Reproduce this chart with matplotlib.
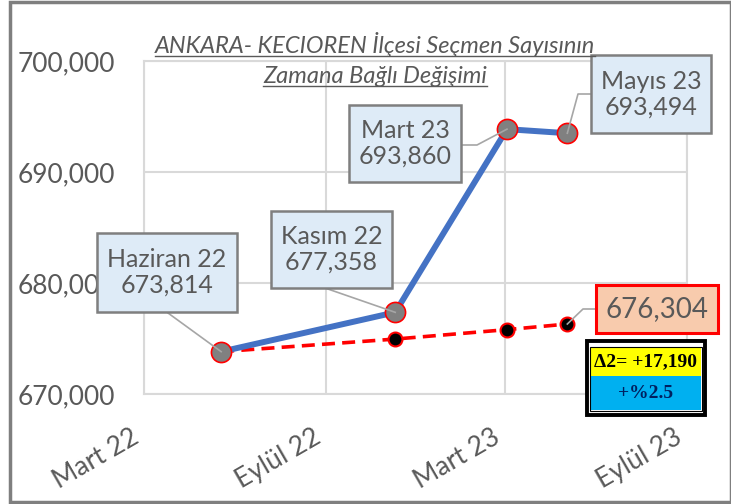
import datetime as dt
import matplotlib
matplotlib.use('Agg')
import matplotlib.pyplot as plt
import matplotlib.dates as mdates
from matplotlib.patches import Rectangle
from matplotlib.lines import Line2D
from matplotlib.transforms import Affine2D, IdentityTransform, ScaledTranslation

W, H = 731, 504

# Keçiören voter counts
point_names = ['Haziran 22', 'Kasım 22', 'Mart 23', 'Mayıs 23']
point_dates = [dt.date(2022, 5, 18), dt.date(2022, 11, 10), dt.date(2023, 3, 3), dt.date(2023, 5, 3)]
voters = [673814, 677358, 693860, 693494]
# expected (normal growth) trend
trend = [673814, 674950, 675800, 676304]

xticks = [dt.date(2022, 3, 1), dt.date(2022, 9, 1), dt.date(2023, 3, 1), dt.date(2023, 9, 1)]
xtick_labels = ['Mart 22', 'Eylül 22', 'Mart 23', 'Eylül 23']
yticks = [670000, 680000, 690000, 700000]

title1 = 'ANKARA- KECIOREN İlçesi Seçmen Sayısının'
title2 = 'Zamana Bağlı Değişimi'

plt.rcParams['font.family'] = ['Lato', 'DejaVu Sans']
gray_txt = '#595959'
grid_c = '#D9D9D9'

fig = plt.figure(figsize=(W / 100, H / 100), dpi=100)
ax = fig.add_axes([144 / W, 1 - 394 / H, (687 - 144) / W, (394 - 61) / H])
# pixel coords measured from the top-left corner
px = Affine2D().scale(1 / W, -1 / H).translate(0, 1) + fig.transFigure

ax.plot(point_dates, trend, color='red', lw=2.6, ls=(0, (3.6, 2.0)),
        marker='o', ms=10, mfc='black', mec='red', mew=1.5, zorder=3)
ax.plot(point_dates, voters, color='#4472C4', lw=4.3,
        marker='o', ms=14.5, mfc='#808080', mec='red', mew=1.2, zorder=4)

ax.set_xlim(xticks[0], xticks[-1])
ax.set_ylim(yticks[0], yticks[-1])
ax.set_xticks(xticks)
ax.set_xticklabels(xtick_labels, rotation=30, ha='right', va='top', rotation_mode='anchor')
ax.set_yticks(yticks)
ax.set_yticklabels(['{:,}'.format(v) for v in yticks])
ax.tick_params(length=0, labelsize=19, labelcolor=gray_txt)
ax.tick_params(axis='y', pad=21)
ax.tick_params(axis='x', pad=22)
shift = ScaledTranslation(-13 / 100, 0, fig.dpi_scale_trans)
for lab in ax.get_xticklabels():
    lab.set_transform(lab.get_transform() + shift)
ax.grid(color=grid_c, lw=1.5)
for s in ax.spines.values():
    s.set_color(grid_c)
    s.set_linewidth(1.5)

# outer frame
fig.add_artist(Rectangle((9.5, 1.5), W - 9.5, H - 3.5, transform=px, fill=False,
                         ec='#7F7F7F', lw=2.5, zorder=1))


def data_px(x, y):
    dx, dy = ax.transData.transform((mdates.date2num(x), y))
    return dx, H - dy


def label_box(rect, text, leader, x, y, fc='#DEEBF7', ec='#7F7F7F', elw=1.8, size=18):
    x0, y0, x1, y1 = rect
    pts = leader + [data_px(x, y)]
    fig.add_artist(Line2D([p[0] for p in pts], [p[1] for p in pts], transform=px,
                          color='#A6A6A6', lw=1.2, zorder=5))
    fig.add_artist(Rectangle((x0, y0), x1 - x0, y1 - y0, transform=px,
                             fc=fc, ec=ec, lw=elw, zorder=6))
    fig.text((x0 + x1) / 2, (y0 + y1) / 2, text, transform=px, ha='center', va='center',
             fontsize=size, color=gray_txt, linespacing=1.15, zorder=7)


boxes = [(97, 233, 237, 312), (271, 211, 392, 288), (349, 105, 461, 182), (591, 55, 711, 133)]
leaders = [[(168, 313)], [(325, 288)], [(461, 145), (477, 145)], [(591, 94), (578, 94)]]
for name, d, v, b, ld in zip(point_names, point_dates, voters, boxes, leaders):
    label_box(b, '{}\n{:,}'.format(name, v), ld, d, v)

label_box((596, 285, 718, 333), '{:,}'.format(trend[-1]), [(596, 309), (583, 309)],
          point_dates[-1], trend[-1], fc='#F8CBAD', ec='red', elw=2.2, size=20)

# difference box
delta = voters[-1] - trend[-1]
pct = delta / trend[-1] * 100
fig.add_artist(Rectangle((587, 341), 118, 74, transform=px, fc='white', ec='black', lw=2.8, zorder=6))
fig.add_artist(Rectangle((591, 347.5), 110, 28, transform=px, fc='#FFFF00', ec='none', zorder=7))
fig.add_artist(Rectangle((591, 375.5), 110, 34, transform=px, fc='#00B0F0', ec='none', zorder=7))
fig.add_artist(Rectangle((590, 346.5), 112, 64, transform=px, fill=False, ec='black', lw=0.8, zorder=8))
fig.text(646, 362, 'Δ2= +{:,}'.format(delta), transform=px, ha='center', va='center',
         fontsize=14, fontweight='bold', family='Liberation Serif', color='black', zorder=9)
fig.text(646, 393, '+%{:.1f}'.format(pct), transform=px, ha='center', va='center',
         fontsize=14, fontweight='bold', family='Liberation Serif', color='#00205F', zorder=9)

# underlined italic title
t1 = fig.text(375, 53, title1, transform=px, ha='center', va='baseline',
              fontsize=17, style='italic', color=gray_txt, zorder=7)
t2 = fig.text(375, 83, title2, transform=px, ha='center', va='baseline',
              fontsize=17, style='italic', color=gray_txt, zorder=7)
fig.canvas.draw()
for t, base in ((t1, 53), (t2, 83)):
    bb = t.get_window_extent()
    yy = H - base - 3
    fig.add_artist(Line2D([bb.x0, bb.x1], [yy, yy], transform=IdentityTransform(),
                          color=gray_txt, lw=1.0, zorder=7))

fig.savefig('out.png', dpi=100)
